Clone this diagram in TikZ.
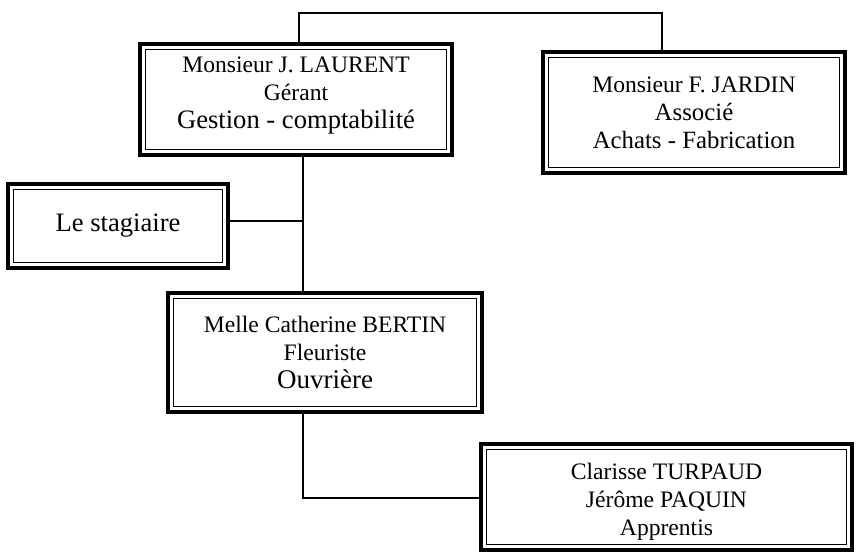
\documentclass[tikz,border=0pt]{standalone}
\usepackage{fontspec}
\setmainfont{Liberation Serif}
\usetikzlibrary{calc}
\newcommand\largeline{\fontsize{13.3}{14}\selectfont}

\begin{document}
\begin{tikzpicture}[x=0.5pt,y=-0.5pt,
    frame/.style={draw,line width=1.6pt,outer sep=0pt,inner sep=0pt,align=center,
      font=\fontsize{11.8}{14}\selectfont},
    link/.style={line width=0.8pt}]
    \useasboundingbox (0,0) rectangle (856,552); % keeps the page size

    \node[frame,minimum width=156pt,minimum height=55.5pt,text depth=7pt] (laurent) at (296,99.5)
      {Monsieur J. LAURENT\\ Gérant\\ {\largeline Gestion - comptabilité}};
    \node[frame,minimum width=151pt,minimum height=60.5pt] (jardin) at (694,112.5)
      {Monsieur F. JARDIN\\ {\fontsize{12.4}{14}\selectfont Associé}\\
       {\fontsize{12.4}{14}\selectfont Achats - Fabrication}};
    \node[frame,minimum width=110pt,minimum height=42pt,font=\largeline] (stagiaire) at (118,226)
      {Le stagiaire};
    \node[frame,minimum width=157pt,minimum height=59.5pt] (bertin) at (325,352.5)
      {Melle Catherine BERTIN\\ Fleuriste\\ {\fontsize{13.5}{14}\selectfont Ouvrière}};
    \node[frame,minimum width=185.5pt,minimum height=53pt,text height=38.5pt,text depth=0pt] (apprentis) at (666.5,497)
      {Clarisse TURPAUD\\ Jérôme PAQUIN\\ Apprentis};

    % thin inner line of each double frame
    \foreach \n in {laurent,jardin,stagiaire,bertin,apprentis}{
      \draw[line width=0.6pt] ([shift={(2.8pt,-2.8pt)}]\n.north west)
        rectangle ([shift={(-2.8pt,2.8pt)}]\n.south east);
    }

    % connectors
    \coordinate (top) at (299,13);
    \coordinate (drop) at (662,13);
    \coordinate (spine) at (303,221);
    \coordinate (corner) at (303,498);
    \draw[link] (laurent.north -| top) -- (top) -- (drop) -- (jardin.north -| drop);
    \draw[link] (laurent.south -| spine) -- (bertin.north -| spine);
    \draw[link] (stagiaire.east |- spine) -- (spine);
    \draw[link] (bertin.south -| corner) |- (apprentis.west |- corner);
\end{tikzpicture}
\end{document}
